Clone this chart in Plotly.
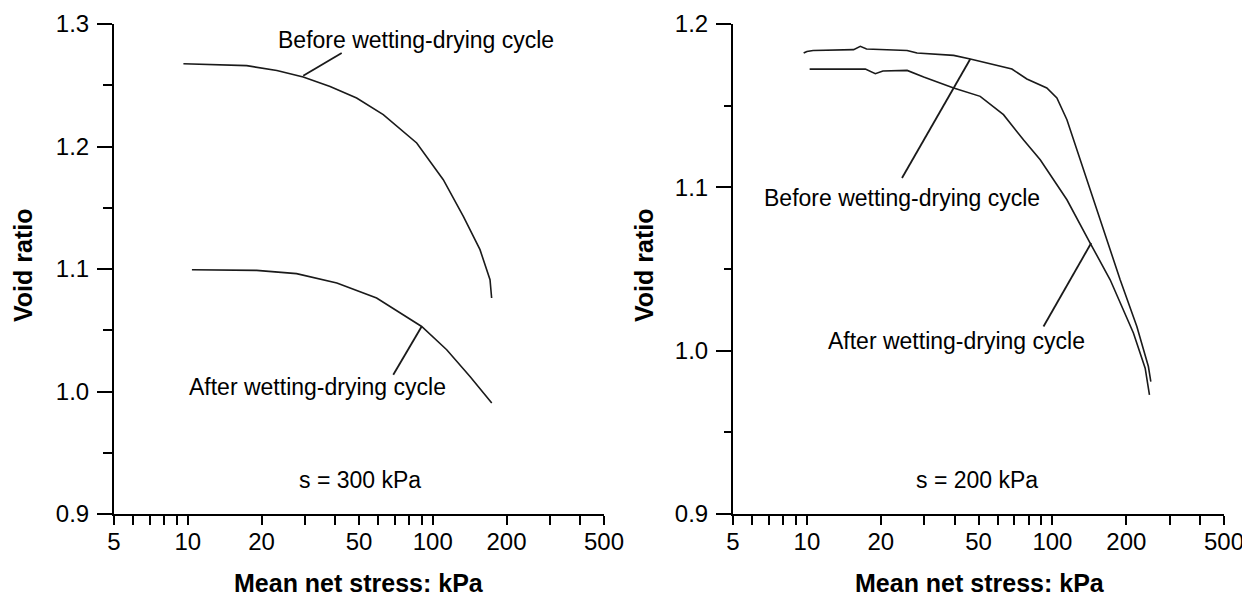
import numpy as np
import plotly.graph_objects as go

# ---------------- data ----------------
# Left panel: s = 300 kPa
left_before_p = [9.6, 12.5, 17.4, 23.1, 29.6, 38.1, 48.9, 62.8, 86.0, 110.4, 133.3, 155.9, 171.3, 173.9]
left_before_e = [1.2676, 1.267, 1.266, 1.262, 1.2567, 1.249, 1.2396, 1.226, 1.2029, 1.1729, 1.143, 1.1158, 1.0913, 1.0763]
left_after_p = [10.4, 19.1, 27.8, 40.6, 59.0, 75.8, 90.1, 114.0, 141.9, 174.1]
left_after_e = [1.0994, 1.0989, 1.0962, 1.0886, 1.0763, 1.0627, 1.0531, 1.0341, 1.0123, 0.9906]

# Right panel: s = 200 kPa
right_before_p = [9.7, 10.0, 10.6, 15.5, 16.5, 17.5, 25.6, 28.1, 39.6, 46.3, 68.4, 78.7, 94.9, 104.3,
                  114.6, 138.0, 161.4, 188.8, 220.8, 231.3, 246.0, 251.7]
right_before_e = [1.1822, 1.1832, 1.1838, 1.1843, 1.1863, 1.1847, 1.1838, 1.1822, 1.1808, 1.1786, 1.1724, 1.1663, 1.1608, 1.1547,
                  1.1414, 1.1047, 1.074, 1.0434, 1.0148, 1.0047, 0.9903, 0.9811]
right_after_p = [10.26, 17.3, 19.0, 20.4, 25.6, 29.9, 39.6, 50.8, 63.2, 76.2, 89.2,
                 114.6, 142.5, 171.9, 213.8, 238.7, 248.5]
right_after_e = [1.1724, 1.1724, 1.1696, 1.1712, 1.1716, 1.1675, 1.1608, 1.1557, 1.1445, 1.1291, 1.1169,
                 1.0924, 1.0659, 1.0434, 1.0108, 0.9893, 0.9730]

# Leader lines (curve point -> label)
lead_left_before = ([29.6, 42.5], [1.2578, 1.2763])
lead_left_after = ([90.1, 69.0], [1.0531, 1.0137])
lead_right_before = ([46.3, 24.4], [1.1786, 1.1057])
lead_right_after = ([143.9, 92.0], [1.0659, 1.0148])

# Labels: (text, x, y)
labels_left = [("Before wetting-drying cycle", 85.3, 1.2869),
               ("After wetting-drying cycle", 33.8, 1.0039),
               ("s = 300 kPa", 50.5, 0.928)]
labels_right = [("Before wetting-drying cycle", 24.3, 1.0932),
                ("After wetting-drying cycle", 40.8, 1.0061),
                ("s = 200 kPa", 49.2, 0.921)]

x_tickvals = [5, 6, 7, 8, 9, 10, 20, 30, 40, 50, 60, 70, 80, 90, 100, 200, 300, 400, 500]
x_labelled = [5, 10, 20, 50, 100, 200, 500]
y_left_major = [0.9, 1.0, 1.1, 1.2, 1.3]
y_left_minor = [0.95, 1.05, 1.15, 1.25]
y_right_major = [0.9, 1.0, 1.1, 1.2]
y_right_minor = [0.95, 1.05, 1.15]

x_title = "Mean net stress: kPa"
y_title = "Void ratio"

# ---------------- figure ----------------
FONT = "Arial, Liberation Sans, sans-serif"
LINE_C = "#1a1a1a"
OFF = 8                      # page body margin
W, H = 1250 - OFF, 599 - OFF

fig = go.Figure()

def add_curve(xs, ys, xa, ya, width=1.6):
    fig.add_trace(go.Scatter(x=xs, y=ys, mode="lines", xaxis=xa, yaxis=ya,
                             line=dict(color=LINE_C, width=width), showlegend=False,
                             hoverinfo="skip"))

add_curve(left_before_p, left_before_e, "x", "y")
add_curve(left_after_p, left_after_e, "x", "y")
add_curve(right_before_p, right_before_e, "x2", "y2")
add_curve(right_after_p, right_after_e, "x2", "y2")
for (lx, ly), xa, ya in [(lead_left_before, "x", "y"), (lead_left_after, "x", "y"),
                         (lead_right_before, "x2", "y2"), (lead_right_after, "x2", "y2")]:
    add_curve(lx, ly, xa, ya, width=1.8)

annotations = []
for (txt, x, y) in labels_left:
    annotations.append(dict(text=txt, x=np.log10(x), y=y, xref="x", yref="y", showarrow=False,
                            font=dict(family=FONT, size=23, color="black"),
                            xanchor="center", yanchor="middle"))
for (txt, x, y) in labels_right:
    annotations.append(dict(text=txt, x=np.log10(x), y=y, xref="x2", yref="y2", showarrow=False,
                            font=dict(family=FONT, size=23, color="black"),
                            xanchor="center", yanchor="middle"))

def px(xp):
    return (xp - OFF) / W

def py(yp):
    return 1 - (yp - OFF) / H

annotations += [
    dict(text="<b>" + x_title + "</b>", x=px(359), y=py(583), xref="paper", yref="paper", showarrow=False,
         font=dict(family=FONT, size=25, color="black"), xanchor="center", yanchor="middle"),
    dict(text="<b>" + x_title + "</b>", x=px(980), y=py(583), xref="paper", yref="paper", showarrow=False,
         font=dict(family=FONT, size=25, color="black"), xanchor="center", yanchor="middle"),
    dict(text="<b>" + y_title + "</b>", x=px(23), y=py(266), xref="paper", yref="paper", showarrow=False,
         textangle=-90, font=dict(family=FONT, size=25, color="black"), xanchor="center", yanchor="middle"),
    dict(text="<b>" + y_title + "</b>", x=px(644), y=py(266), xref="paper", yref="paper", showarrow=False,
         textangle=-90, font=dict(family=FONT, size=25, color="black"), xanchor="center", yanchor="middle"),
]

xt_text = [str(v) if v in x_labelled else "" for v in x_tickvals]

xcommon = dict(type="log", range=[np.log10(5), np.log10(500)], tickmode="array", tickvals=x_tickvals,
               ticktext=xt_text, ticks="outside", ticklen=9, tickwidth=2, tickcolor="black",
               ticklabelstandoff=-4,
               showline=True, linewidth=2, linecolor="black", showgrid=False, zeroline=False,
               automargin=False,
               tickfont=dict(family=FONT, size=24, color="black"), fixedrange=True)

def yaxis_cfg(major, minor, rng, minor_len):
    return dict(range=rng, tickmode="array", tickvals=major, ticktext=[f"{v:.1f}" for v in major],
                ticks="outside", ticklen=15, tickwidth=2, tickcolor="black",
                ticklabelstandoff=3,
                minor=dict(tickmode="array", tickvals=minor, ticks="outside", ticklen=minor_len,
                           tickwidth=2, tickcolor="black", showgrid=False),
                showline=True, linewidth=2, linecolor="black", showgrid=False, zeroline=False,
                automargin=False,
                tickfont=dict(family=FONT, size=24, color="black"), fixedrange=True)

fig.update_layout(
    width=W, height=H,
    margin=dict(l=0, r=0, t=0, b=0, autoexpand=False),
    paper_bgcolor="white", plot_bgcolor="white",
    xaxis=dict(domain=[px(114), px(604)], anchor="y", **xcommon),
    xaxis2=dict(domain=[px(733), px(1224)], anchor="y2", **xcommon),
    yaxis=dict(domain=[py(514), py(24)], anchor="x", **yaxis_cfg(y_left_major, y_left_minor, [0.9, 1.3], 9)),
    yaxis2=dict(domain=[py(514), py(24)], anchor="x2", **yaxis_cfg(y_right_major, y_right_minor, [0.9, 1.2], 7)),
    annotations=annotations,
    showlegend=False,
)

fig.write_html("out.html")
